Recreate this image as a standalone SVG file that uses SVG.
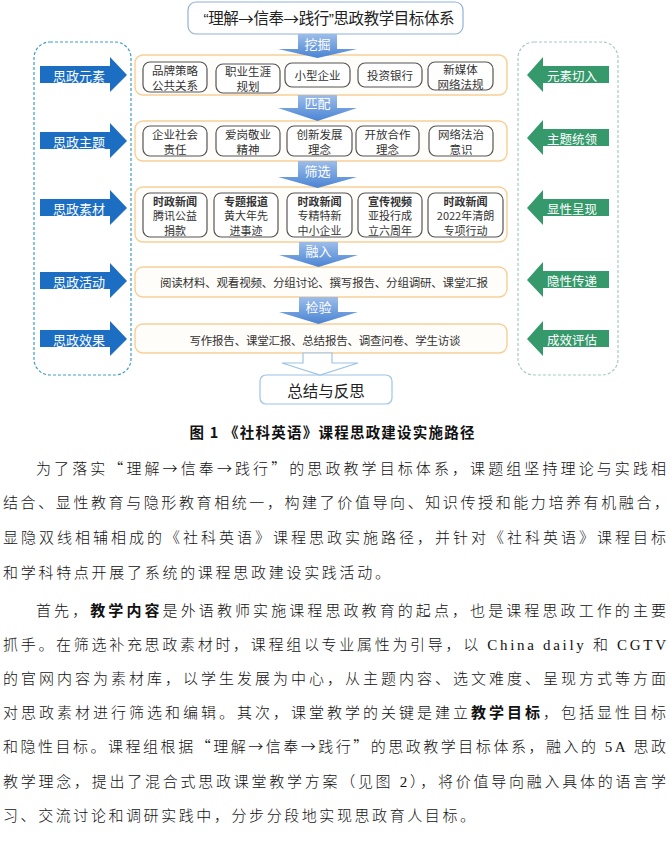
<svg xmlns="http://www.w3.org/2000/svg" width="670" height="844" viewBox="0 0 670 844">
<defs>
<linearGradient id="gblue" x1="0" y1="0" x2="0" y2="1">
<stop offset="0" stop-color="#9cbde9"/>
<stop offset="1" stop-color="#4a84d4"/>
</linearGradient>
</defs>
<style>
.sans{font-family:"Liberation Sans","Noto Sans CJK SC",sans-serif}
.cjk{font-family:"Noto Sans CJK SC",sans-serif}
.para{font-family:"Liberation Serif","Noto Sans CJK SC",serif;font-size:15px;fill:#111;font-weight:300}
.b{font-family:"Noto Sans CJK SC",sans-serif;font-weight:bold}
.panel{fill:#fffdf9;stroke:#f6cf98;stroke-width:1.4}
.box{fill:#fff;stroke:#555;stroke-width:1.2}
.bt{font-family:"Noto Sans CJK SC",sans-serif;font-size:11.5px;fill:#333;text-anchor:middle;dominant-baseline:central}
.b3{font-size:11px}
.bb{font-weight:bold}
.larrow{fill:#1b6ec2}
.rarrow{fill:#35996b}
.alab{font-family:"Noto Sans CJK SC",sans-serif;font-size:13px;fill:#fff;text-anchor:middle;dominant-baseline:central}
.ralab{font-family:"Noto Sans CJK SC",sans-serif;font-size:12.5px;fill:#fff;text-anchor:middle;dominant-baseline:central}
.down{fill:url(#gblue)}
.dlab{font-family:"Noto Sans CJK SC",sans-serif;font-size:13px;fill:#fff;text-anchor:middle;dominant-baseline:central}
.rowt{font-family:"Noto Sans CJK SC",sans-serif;font-size:11.5px;fill:#333;text-anchor:middle;dominant-baseline:central}
</style>
<rect width="670" height="844" fill="#fff"/>

<!-- side panels -->
<g id="left-panel">
<rect x="34" y="42" width="97" height="333" rx="16" fill="none" stroke="#3d9dc6" stroke-width="1.2" stroke-dasharray="3,2"/>
</g>
<g id="right-panel">
<rect x="518" y="42" width="100" height="333" rx="16" fill="none" stroke="#a6cac6" stroke-width="1.2" stroke-dasharray="3,2"/>
</g>

<!-- title -->
<g id="title">
<rect x="188" y="2" width="275" height="32" rx="8" fill="#fff" stroke="#92b2d8" stroke-width="1.2"/>
<text x="329" y="18" class="sans" font-size="15.5" fill="#222" text-anchor="middle" dominant-baseline="central" textLength="251" lengthAdjust="spacing">“理解<tspan class="cjk">→</tspan>信奉<tspan class="cjk">→</tspan>践行”思政教学目标体系</text>
</g>

<!-- left arrows -->
<g id="left-yuansu">
<polygon class="larrow" points="40,66 110,66 110,57 127,75 110,92 110,83 40,83"/>
<text class="alab" x="79" y="75">思政元素</text>
</g>
<g id="left-zhuti">
<polygon class="larrow" points="40,132 110,132 110,123 127,141 110,158 110,149 40,149"/>
<text class="alab" x="79" y="141">思政主题</text>
</g>
<g id="left-sucai">
<polygon class="larrow" points="40,199 110,199 110,190 127,208 110,225 110,216 40,216"/>
<text class="alab" x="79" y="208">思政素材</text>
</g>
<g id="left-huodong">
<polygon class="larrow" points="40,272 110,272 110,263 127,281 110,298 110,289 40,289"/>
<text class="alab" x="79" y="281">思政活动</text>
</g>
<g id="left-xiaoguo">
<polygon class="larrow" points="40,330 110,330 110,321 127,339 110,356 110,347 40,347"/>
<text class="alab" x="79" y="339">思政效果</text>
</g>

<!-- right arrows -->
<g id="right-qieru">
<polygon class="rarrow" points="609,66 543,66 543,57 527,75 543,92 543,83 609,83"/>
<text class="ralab" x="572" y="75">元素切入</text>
</g>
<g id="right-tongling">
<polygon class="rarrow" points="609,129 543,129 543,120 527,138 543,155 543,146 609,146"/>
<text class="ralab" x="572" y="138">主题统领</text>
</g>
<g id="right-chengxian">
<polygon class="rarrow" points="609,199 543,199 543,190 527,208 543,225 543,216 609,216"/>
<text class="ralab" x="572" y="208">显性呈现</text>
</g>
<g id="right-chuandi">
<polygon class="rarrow" points="609,271 543,271 543,262 527,280 543,297 543,288 609,288"/>
<text class="ralab" x="572" y="280">隐性传递</text>
</g>
<g id="right-pinggu">
<polygon class="rarrow" points="609,330 543,330 543,321 527,339 543,356 543,347 609,347"/>
<text class="ralab" x="572" y="339">成效评估</text>
</g>

<!-- row 1 -->
<g id="row-yuansu">
<rect class="panel" x="135" y="55" width="372" height="40" rx="8"/>
<rect class="box" x="143" y="62" width="64" height="30" rx="7"/>
<text class="bt" x="175" y="69.5">品牌策略</text>
<text class="bt" x="175" y="84.5">公共关系</text>
<rect class="box" x="216" y="64" width="64" height="29" rx="7"/>
<text class="bt" x="248" y="71">职业生涯</text>
<text class="bt" x="248" y="86">规划</text>
<rect class="box" x="285" y="63" width="65" height="24" rx="7"/>
<text class="bt" x="317.5" y="75">小型企业</text>
<rect class="box" x="358" y="63" width="64" height="24" rx="7"/>
<text class="bt" x="390" y="75">投资银行</text>
<rect class="box" x="428" y="62" width="65" height="28" rx="7"/>
<text class="bt" x="460.5" y="68.5">新媒体</text>
<text class="bt" x="460.5" y="83.5">网络法规</text>
</g>

<!-- row 2 -->
<g id="row-zhuti">
<rect class="panel" x="135" y="121" width="372" height="40" rx="8"/>
<rect class="box" x="143" y="126" width="64" height="30" rx="7"/>
<text class="bt" x="175" y="133.5">企业社会</text>
<text class="bt" x="175" y="148.5">责任</text>
<rect class="box" x="216" y="126" width="64" height="30" rx="7"/>
<text class="bt" x="248" y="133.5">爱岗敬业</text>
<text class="bt" x="248" y="148.5">精神</text>
<rect class="box" x="287" y="126" width="65" height="30" rx="7"/>
<text class="bt" x="319.5" y="133.5">创新发展</text>
<text class="bt" x="319.5" y="148.5">理念</text>
<rect class="box" x="356" y="126" width="63" height="30" rx="7"/>
<text class="bt" x="387.5" y="133.5">开放合作</text>
<text class="bt" x="387.5" y="148.5">理念</text>
<rect class="box" x="429" y="126" width="64" height="30" rx="7"/>
<text class="bt" x="461" y="133.5">网络法治</text>
<text class="bt" x="461" y="148.5">意识</text>
</g>

<!-- row 3 -->
<g id="row-sucai">
<rect class="panel" x="135" y="187" width="372" height="55" rx="8"/>
<rect class="box" x="143" y="193" width="64" height="44" rx="7"/>
<text class="bt b3 bb" x="175" y="200.5">时政新闻</text>
<text class="bt b3" x="175" y="215">腾讯公益</text>
<text class="bt b3" x="175" y="229.5">捐款</text>
<rect class="box" x="214" y="193" width="64" height="44" rx="7"/>
<text class="bt b3 bb" x="246" y="200.5">专题报道</text>
<text class="bt b3" x="246" y="215">黄大年先</text>
<text class="bt b3" x="246" y="229.5">进事迹</text>
<rect class="box" x="287" y="193" width="65" height="44" rx="7"/>
<text class="bt b3 bb" x="319.5" y="200.5">时政新闻</text>
<text class="bt b3" x="319.5" y="215">专精特新</text>
<text class="bt b3" x="319.5" y="229.5">中小企业</text>
<rect class="box" x="358" y="193" width="64" height="44" rx="7"/>
<text class="bt b3 bb" x="390" y="200.5">宣传视频</text>
<text class="bt b3" x="390" y="215">亚投行成</text>
<text class="bt b3" x="390" y="229.5">立六周年</text>
<rect class="box" x="428" y="193" width="75" height="44" rx="7"/>
<text class="bt b3 bb" x="465.5" y="200.5">时政新闻</text>
<text class="bt b3" x="465.5" y="215">2022年清朗</text>
<text class="bt b3" x="465.5" y="229.5">专项行动</text>
</g>

<!-- row 4 -->
<g id="row-huodong">
<rect class="panel" x="135" y="267" width="372" height="30" rx="8"/>
<text class="rowt" x="324" y="282" textLength="328" lengthAdjust="spacing">阅读材料、观看视频、分组讨论、撰写报告、分组调研、课堂汇报</text>
</g>

<!-- row 5 -->
<g id="row-xiaoguo">
<rect class="panel" x="135" y="324" width="372" height="29" rx="8"/>
<text class="rowt" x="325" y="339.5" textLength="271" lengthAdjust="spacing">写作报告、课堂汇报、总结报告、调查问卷、学生访谈</text>
</g>

<!-- summary -->
<g id="summary">
<rect x="260" y="375" width="132" height="29" rx="6" fill="#fff" stroke="#9dc3e6" stroke-width="1.2"/>
<text x="326" y="390" class="cjk" font-size="15.5" fill="#222" text-anchor="middle" dominant-baseline="central">总结与反思</text>
</g>

<!-- connectors -->
<g id="connectors">
<polygon class="down" points="298,34 337,34 337,49 357,49 317.5,58 278,49 298,49"/>
<text class="dlab" x="317.5" y="43">挖掘</text>
<polygon class="down" points="298,95 337,95 337,108 357,108 317.5,121 278,108 298,108"/>
<text class="dlab" x="317.5" y="102.5">匹配</text>
<polygon class="down" points="298,161 337,161 337,177 357,177 317.5,188 278,177 298,177"/>
<text class="dlab" x="317.5" y="170">筛选</text>
<polygon class="down" points="299,242 338,242 338,255 358,255 318.5,267 279,255 299,255"/>
<text class="dlab" x="318.5" y="250.5">融入</text>
<polygon class="down" points="299,297 338,297 338,312 358,312 318.5,324 279,312 299,312"/>
<text class="dlab" x="318.5" y="306.5">检验</text>
<polygon points="303,353 332,353 332,363 358,363 320,375 282,363 303,363" fill="#fff" stroke="#9dc3e6" stroke-width="1.2"/>
</g>

<!-- caption -->
<text x="332" y="437.5" class="b" font-size="14.5" fill="#111" text-anchor="middle" textLength="285" lengthAdjust="spacing">图 1 《社科英语》课程思政建设实施路径</text>

<!-- body text -->
<g id="body-text">
<text class="para" x="36" y="473.5" textLength="630" lengthAdjust="spacing">为了落实<tspan class="cjk">“理解→信奉→践行”</tspan>的思政教学目标体系，课题组坚持理论与实践相</text>
<text class="para" x="3" y="507.5" textLength="666" lengthAdjust="spacing">结合、显性教育与隐形教育相统一，构建了价值导向、知识传授和能力培养有机融合，</text>
<text class="para" x="3" y="542.5" textLength="663" lengthAdjust="spacing">显隐双线相辅相成的《社科英语》课程思政实施路径，并针对《社科英语》课程目标</text>
<text class="para" x="3" y="577.5" textLength="387" lengthAdjust="spacing">和学科特点开展了系统的课程思政建设实践活动。</text>
<text class="para" x="36" y="615.5" textLength="630" lengthAdjust="spacing">首先，<tspan class="b">教学内容</tspan>是外语教师实施课程思政教育的起点，也是课程思政工作的主要</text>
<text class="para" x="3" y="649.5" textLength="663" lengthAdjust="spacing">抓手。在筛选补充思政素材时，课程组以专业属性为引导，以 China daily 和 CGTV</text>
<text class="para" x="3" y="683.5" textLength="663" lengthAdjust="spacing">的官网内容为素材库，以学生发展为中心，从主题内容、选文难度、呈现方式等方面</text>
<text class="para" x="3" y="718" textLength="663" lengthAdjust="spacing">对思政素材进行筛选和编辑。其次，课堂教学的关键是建立<tspan class="b">教学目标</tspan>，包括显性目标</text>
<text class="para" x="3" y="752" textLength="663" lengthAdjust="spacing">和隐性目标。课程组根据<tspan class="cjk">“理解→信奉→践行”</tspan>的思政教学目标体系，融入的 5A 思政</text>
<text class="para" x="3" y="786.5" textLength="663" lengthAdjust="spacing">教学理念，提出了混合式思政课堂教学方案（见图 2），将价值导向融入具体的语言学</text>
<text class="para" x="3" y="821" textLength="472" lengthAdjust="spacing">习、交流讨论和调研实践中，分步分段地实现思政育人目标。</text>
</g>
</svg>
